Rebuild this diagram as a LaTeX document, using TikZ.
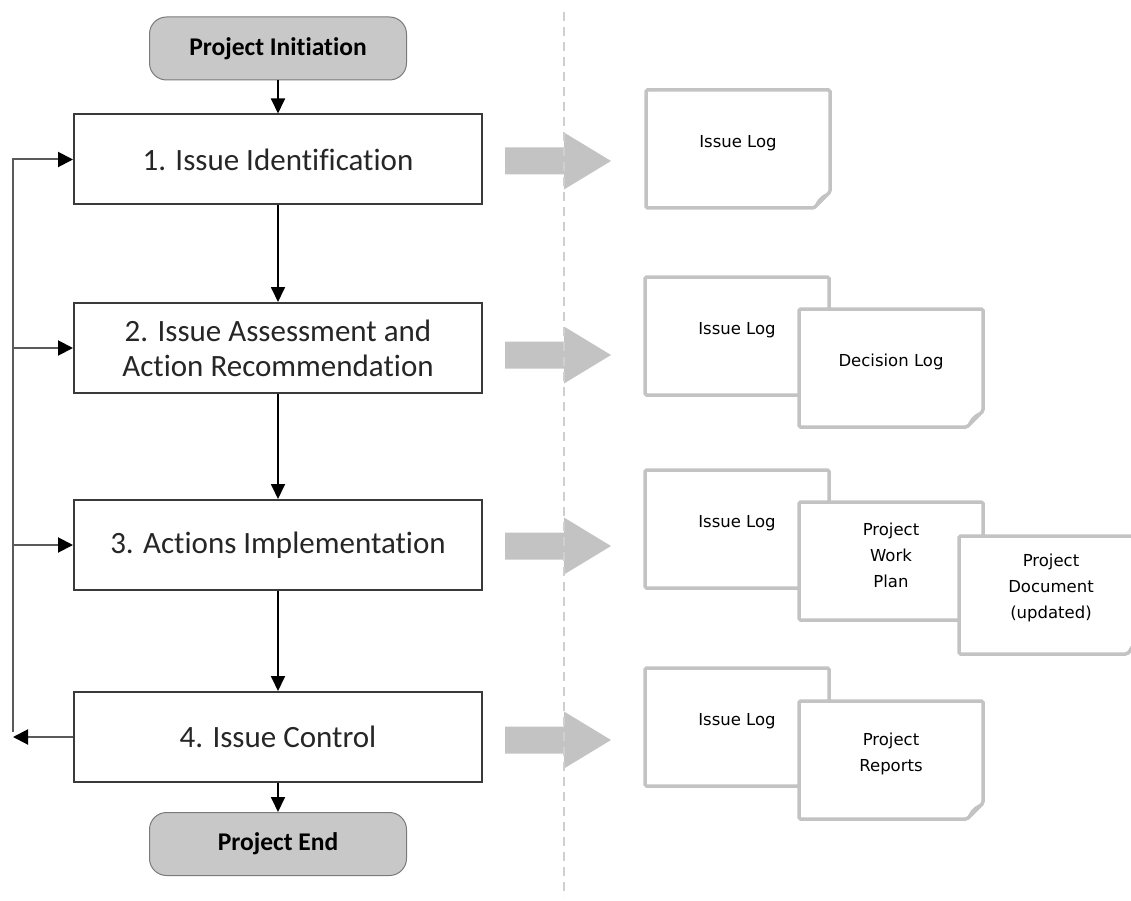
\documentclass[tikz,border=0pt]{standalone}
\usepackage{fontspec}
\setmainfont{Carlito}[Ligatures={NoCommon}]
\newfontfamily\docfont{DejaVu Sans}
\usetikzlibrary{arrows.meta}
\definecolor{termfill}{HTML}{C8C8C8}
\definecolor{termline}{HTML}{7A7A7A}
\definecolor{boxline}{HTML}{3A3A3A}
\definecolor{loopcol}{HTML}{5A5A5A}
\definecolor{docgray}{HTML}{C3C3C3}
\definecolor{dashgray}{HTML}{CFCFCF}
\definecolor{proctext}{HTML}{262626}
\newcommand{\DocPage}[2]{%
  \path[docpage] (#1,#2) -- ({#1+184},#2) -- ({#1+184},{#2+102}) -- ({#1+168},{#2+118}) -- (#1,{#2+118}) -- cycle;
  \fill[docgray] ({#1+184},{#2+102}) .. controls ({#1+176},{#2+104}) and ({#1+170},{#2+110}) .. ({#1+168},{#2+118}) -- cycle;
}
\newcommand{\BigArrow}[1]{%
  \fill[docgray] (505,{#1-13.5}) -- (564,{#1-13.5}) -- (564,{#1-28.5}) -- (611,#1) -- (564,{#1+28.5}) -- (564,{#1+13.5}) -- (505,{#1+13.5}) -- cycle;
}
\begin{document}
\begin{tikzpicture}[x=1pt,y=-1pt,
  term/.style={draw=termline, line width=1pt, fill=termfill, rounded corners=17pt,
    minimum width=257pt, minimum height=63pt, inner sep=0pt,
    font=\bfseries\fontsize{25.5}{28}\selectfont, text=black},
  proc/.style={draw=boxline, line width=2pt, fill=white, minimum width=408pt,
    minimum height=90pt, inner sep=0pt, align=center,
    font=\fontsize{31}{35}\selectfont, text=proctext},
  flow/.style={draw=black, line width=1.8pt, -{Triangle[length=15pt,width=14pt]}},
  loopflow/.style={draw=loopcol, line width=2pt, -{Triangle[length=15pt,width=15pt,color=black]}},
  docpage/.style={draw=docgray, line width=3.5pt, fill=white, rounded corners=1.5pt},
  doctext/.style={align=center, inner sep=0pt, text=black,
    font=\docfont\fontsize{16.5}{26}\selectfont},
]
\useasboundingbox (0,0) rectangle (1131,901);
\clip (0,0) rectangle (1131,901);

% left flow
\node[term] (init) at (278,48.5) {Project Initiation};
\node[proc] (b1) at (278,159.5) {1. Issue Identification};
\node[proc] (b2) at (278,348) {2. Issue Assessment and\\Action Recommendation};
\node[proc] (b3) at (278,545) {3. Actions Implementation};
\node[proc] (b4) at (278,737) {4. Issue Control};
\node[term] (end) at (278,844) {Project End};

\draw[flow] (init.south) -- (b1.north);
\draw[flow] (b1.south) -- (b2.north);
\draw[flow] (b2.south) -- (b3.north);
\draw[flow] (b3.south) -- (b4.north);
\draw[flow] (b4.south) -- (end.north);

% feedback loop
\coordinate (Lret) at (13,737);
\coordinate (Lbot) at (13,732);
\coordinate (Ltop) at (13,159.5);
\draw[loopflow] (b4.west) -- (Lret);
\draw[loopflow] (Lbot) -- (Ltop) -- (b1.west);
\draw[loopflow] (Lbot |- b2.west) -- (b2.west);
\draw[loopflow] (Lbot |- b3.west) -- (b3.west);

% big gray arrows
\BigArrow{161}
\BigArrow{355}
\BigArrow{546}
\BigArrow{740}

% separator
\draw[dashgray, line width=1.6pt, dash pattern=on 9pt off 6pt] (564,12) -- (564,897);

% documents row 1
\DocPage{646}{90}
\node[doctext] (d1) at (738,143) {Issue Log};
% row 2
\DocPage{645}{277}
\node[doctext] (d2a) at (737,330) {Issue Log};
\DocPage{799}{309}
\node[doctext] (d2b) at (891,362) {Decision Log};
% row 3
\DocPage{645}{470}
\node[doctext] (d3a) at (737,523) {Issue Log};
\DocPage{799}{502}
\node[doctext] (d3b) at (891,555) {Project\\Work\\Plan};
\DocPage{959}{536}
\node[doctext] (d3c) at (1051,588) {Project\\Document\\(updated)};
% row 4
\DocPage{645}{668}
\node[doctext] (d4a) at (737,721) {Issue Log};
\DocPage{799}{701}
\node[doctext] (d4b) at (891,754) {Project\\Reports};
\end{tikzpicture}
\end{document}
